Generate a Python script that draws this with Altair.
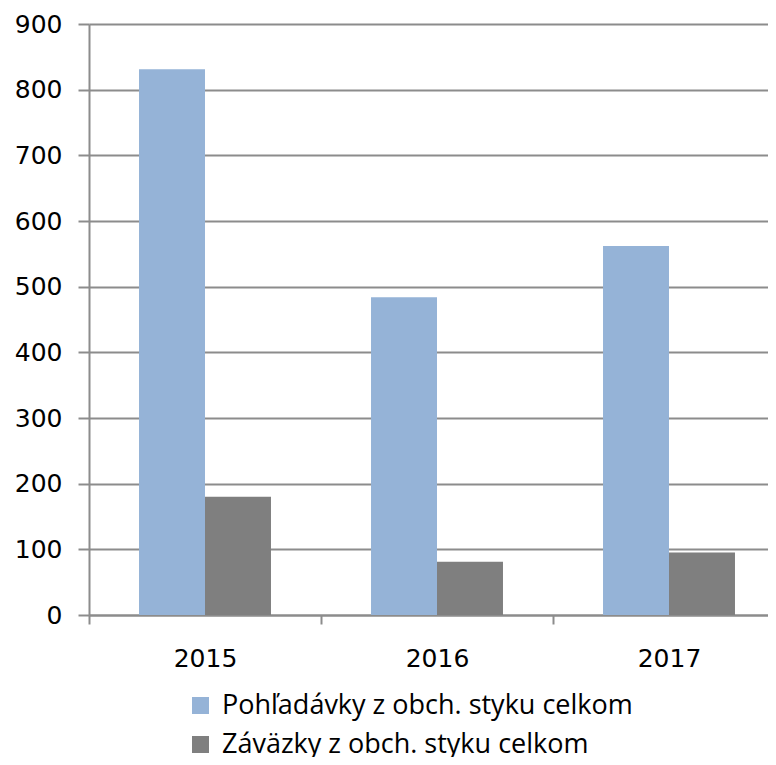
import altair as alt
import pandas as pd

years = ["2015", "2016", "2017"]
series = ["Pohľadávky z obch. styku celkom", "Záväzky z obch. styku celkom"]
pohladavky = [831, 484, 562]
zavazky = [180, 81, 95]
colors = ["#95B3D7", "#7F7F7F"]
y_ticks = list(range(0, 901, 100))

rows = []
for i, yr in enumerate(years):
    rows.append({"rok": yr, "serie": series[0], "hodnota": pohladavky[i]})
    rows.append({"rok": yr, "serie": series[1], "hodnota": zavazky[i]})
df = pd.DataFrame(rows)

AXIS_FONT = "DejaVu Sans"
LEGEND_FONT = "Open Sans"

chart = (
    alt.Chart(df)
    .mark_bar()
    .encode(
        x=alt.X(
            "rok:N",
            sort=years,
            title=None,
            scale=alt.Scale(range=[0, 696], paddingInner=0, paddingOuter=0),
            axis=alt.Axis(
                labelAngle=0,
                labelFontSize=25,
                labelFont=AXIS_FONT,
                labelColor="#000000",
                labelPadding=22,
                tickBand="extent",
                tickSize=9,
                tickColor="#8C8C8C",
                tickWidth=2,
                domainColor="#8C8C8C",
                domainWidth=2,
                grid=False,
            ),
        ),
        xOffset=alt.XOffset(
            "serie:N",
            sort=series,
            scale=alt.Scale(paddingInner=0, paddingOuter=0.758),
        ),
        y=alt.Y(
            "hodnota:Q",
            title=None,
            scale=alt.Scale(domain=[0, 900], nice=False),
            axis=alt.Axis(
                values=y_ticks,
                labelFontSize=25,
                labelFont=AXIS_FONT,
                labelColor="#000000",
                labelPadding=16,
                tickSize=11,
                tickColor="#8C8C8C",
                tickWidth=2,
                domainColor="#8C8C8C",
                domainWidth=2,
                gridColor="#8C8C8C",
                gridWidth=2,
            ),
        ),
        color=alt.Color(
            "serie:N",
            sort=series,
            scale=alt.Scale(domain=series, range=colors),
            legend=alt.Legend(
                title=None,
                orient="none",
                legendX=98,
                legendY=668,
                symbolType="square",
                symbolSize=289,
                symbolStrokeWidth=0,
                labelFontSize=27,
                labelFont=LEGEND_FONT,
                labelColor="#000000",
                labelOffset=8,
                rowPadding=11,
                labelLimit=600,
            ),
        ),
    )
    .properties(
        width=679,
        height=591,
        autosize=alt.AutoSizeParams(type="none"),
        padding={"top": 16, "left": 81, "right": 0, "bottom": 142},
    )
    .configure_view(stroke=None)
)

chart.save("out.html", embed_options={"renderer": "svg", "actions": False})
